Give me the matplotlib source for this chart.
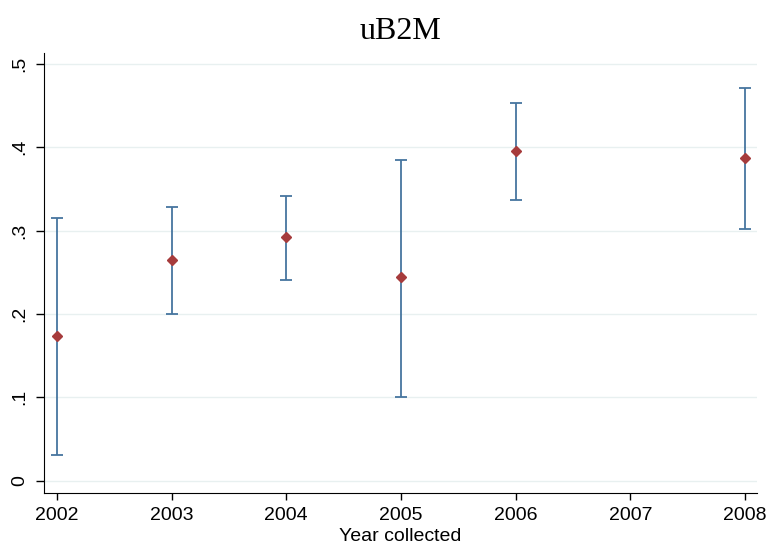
import matplotlib.pyplot as plt

# dados
anos = [2002, 2003, 2004, 2005, 2006, 2008]
media = [0.174, 0.265, 0.292, 0.244, 0.396, 0.387]
inferior = [0.031, 0.200, 0.241, 0.100, 0.337, 0.302]
superior = [0.315, 0.328, 0.341, 0.385, 0.453, 0.471]
ticks_x = [2002, 2003, 2004, 2005, 2006, 2007, 2008]
ticks_y = [0, 0.1, 0.2, 0.3, 0.4, 0.5]
rotulos_y = ['0', '.1', '.2', '.3', '.4', '.5']

plt.rcParams['font.family'] = ['Liberation Sans', 'DejaVu Sans']

fig = plt.figure(figsize=(7.68, 5.56), dpi=100)
ax = fig.add_axes([0.0573, 0.1133, 0.9284, 0.7914])

erro_baixo = [m - l for m, l in zip(media, inferior)]
erro_cima = [u - m for m, u in zip(media, superior)]
ax.errorbar(anos, media, yerr=[erro_baixo, erro_cima], fmt='none',
            ecolor='#46759f', elinewidth=1.3, capsize=4.5, capthick=1.3, zorder=2)
ax.plot(anos, media, linestyle='none', marker='D', markersize=5,
        color='#a63b3c', zorder=3)

ax.set_xlim(2002 - 0.113, 2008 + 0.105)
ax.set_ylim(-0.0148, 0.513)
ax.set_xticks(ticks_x)
ax.set_yticks(ticks_y)
ax.set_yticklabels(rotulos_y, rotation=90, va='center')
ax.tick_params(labelsize=14, length=6, width=1, color='black')
ax.tick_params(axis='x', length=5, pad=5)
ax.tick_params(axis='y', pad=5)

ax.grid(axis='y', color='#e8f0f0', linewidth=1)
ax.set_axisbelow(True)
for lado in ['top', 'right']:
    ax.spines[lado].set_visible(False)

ax.set_xlabel('Year collected', fontsize=14, labelpad=3)
ax.set_title('uB2M', fontsize=23, family='Liberation Serif', pad=10)

plt.savefig('out.png', dpi=100)
